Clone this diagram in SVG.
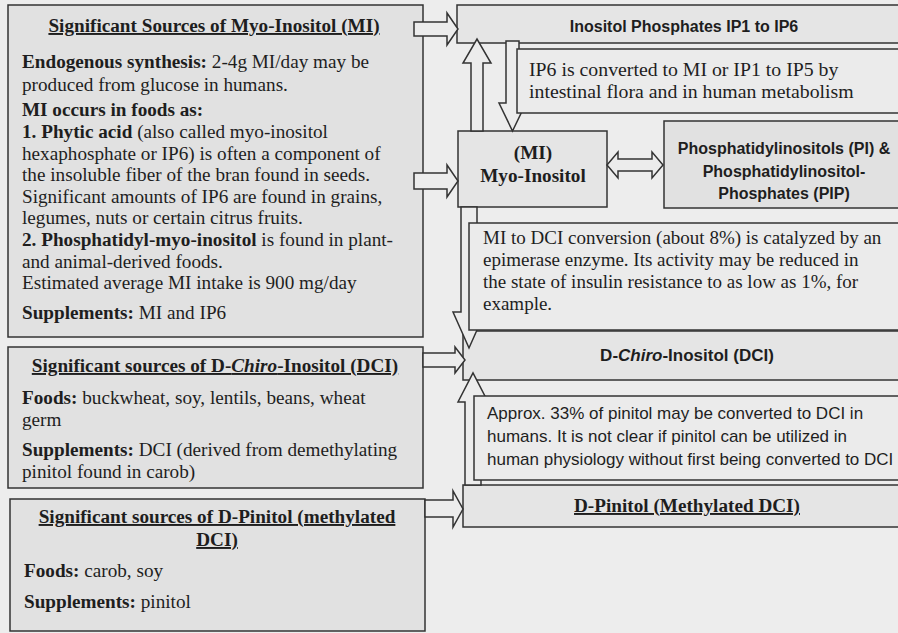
<svg xmlns="http://www.w3.org/2000/svg" width="898" height="633" viewBox="0 0 898 633">
<style>
.bg{fill:#ededed}
.lbox{fill:#e1e1e1;stroke:#333;stroke-width:1.5}
.tbox{fill:#e5e5e5;stroke:#333;stroke-width:1.5}
.xbox{fill:#ebebeb;stroke:#333;stroke-width:1.5}
.ser{font-family:"Liberation Serif","Times New Roman",serif;font-size:19.2px;fill:#1e1e1e}
.san{font-family:"Liberation Sans",Arial,sans-serif;font-size:17px;fill:#1e1e1e}
.sanb{font-family:"Liberation Sans",Arial,sans-serif;font-size:16px;font-weight:bold;fill:#1e1e1e}
.b{font-weight:bold}
.u{text-decoration:underline}
.mid{text-anchor:middle}
.arr{fill:#ececec;stroke:#333;stroke-width:1.5;stroke-linejoin:miter}
</style>
<rect class="bg" x="0" y="0" width="898" height="633"/>

<g id="src-mi">
<rect class="lbox" x="8" y="5" width="415" height="332"/>
<text class="ser b u mid" x="214" y="32">Significant Sources of Myo-Inositol (MI)</text>
<text class="ser" x="22" y="68"><tspan class="b">Endogenous synthesis:</tspan> 2-4g MI/day may be</text>
<text class="ser" x="22" y="91">produced from glucose in humans.</text>
<text class="ser b" x="22" y="116">MI occurs in foods as:</text>
<text class="ser" x="22" y="138"><tspan class="b">1. Phytic acid</tspan> (also called myo-inositol</text>
<text class="ser" x="22" y="159.6">hexaphosphate or IP6) is often a component of</text>
<text class="ser" x="22" y="181.2">the insoluble fiber of the bran found in seeds.</text>
<text class="ser" x="22" y="202.8">Significant amounts of IP6 are found in grains,</text>
<text class="ser" x="22" y="224.4">legumes, nuts or certain citrus fruits.</text>
<text class="ser" x="22" y="246"><tspan class="b">2. Phosphatidyl-myo-inositol</tspan> is found in plant-</text>
<text class="ser" x="22" y="267.6">and animal-derived foods.</text>
<text class="ser" x="22" y="289.2">Estimated average MI intake is 900 mg/day</text>
<text class="ser" x="22" y="319"><tspan class="b">Supplements:</tspan> MI and IP6</text>
</g>

<g id="src-dci">
<rect class="lbox" x="8" y="347" width="415" height="141"/>
<text class="ser b u mid" x="215" y="372">Significant sources of D-<tspan font-style="italic">Chiro</tspan>-Inositol (DCI)</text>
<text class="ser" x="22" y="404"><tspan class="b">Foods:</tspan> buckwheat, soy, lentils, beans, wheat</text>
<text class="ser" x="22" y="426">germ</text>
<text class="ser" x="22" y="456"><tspan class="b">Supplements:</tspan> DCI (derived from demethylating</text>
<text class="ser" x="22" y="478">pinitol found in carob)</text>
</g>

<g id="src-pinitol">
<rect class="lbox" x="10" y="499" width="415" height="132"/>
<text class="ser b u mid" x="217" y="523">Significant sources of D-Pinitol (methylated</text>
<text class="ser b u mid" x="217" y="546">DCI)</text>
<text class="ser" x="24" y="577"><tspan class="b">Foods:</tspan> carob, soy</text>
<text class="ser" x="24" y="608"><tspan class="b">Supplements:</tspan> pinitol</text>
</g>

<g id="ip">
<rect class="tbox" x="457" y="5" width="450" height="38"/>
<text class="sanb mid" x="684" y="32">Inositol Phosphates IP1 to IP6</text>
</g>

<g id="mi">
<rect class="tbox" x="458" y="131" width="149" height="76"/>
<text class="ser b mid" x="533" y="159">(MI)</text>
<text class="ser b mid" x="533" y="182">Myo-Inositol</text>
</g>

<g id="pi">
<rect class="lbox" x="664" y="121" width="240" height="87"/>
<text class="sanb mid" x="784" y="154">Phosphatidylinositols (PI) &amp;</text>
<text class="sanb mid" x="784" y="177">Phosphatidylinositol-</text>
<text class="sanb mid" x="784" y="199">Phosphates (PIP)</text>
</g>

<g id="dci">
<rect class="tbox" x="463" y="331" width="445" height="49"/>
<text class="sanb mid" x="687" y="361" style="font-size:17px">D-<tspan font-style="italic">Chiro</tspan>-Inositol (DCI)</text>
</g>

<g id="pinitol">
<rect class="tbox" x="463" y="485" width="445" height="42"/>
<text class="ser b u mid" x="687" y="512">D-Pinitol (Methylated DCI)</text>
</g>

<g id="connectors">
<path class="arr" d="M414,22 H447 V13 L458,29 L447,45 V36 H414 Z"/>
<path class="arr" d="M414,173 H447 V165 L458,181 L447,197 V189 H414 Z"/>
<path class="arr" d="M423,353 H455 V347 L465,360 L455,373 V367 H423 Z"/>
<path class="arr" d="M425,500 H453 V491 L463,509 L453,527 V517 H425 Z"/>
<path class="arr" d="M471,131 V63 H463 L477,39 L491,63 H483 V131 Z"/>
<path class="arr" d="M506,41 H519 V103 H526 L512.5,131 L499,103 H506 Z"/>
<path class="arr" d="M461,207 H477 V312 H485 L469,348 L453,312 H461 Z"/>
<path class="arr" d="M465,485 V402 H458 L473,373 L488,402 H481 V485 Z"/>
<path class="arr" d="M607,165 L618,152 V159 H652 V152 L663,165 L652,178 V171 H618 V178 Z"/>
</g>

<g id="note-ip6">
<rect class="xbox" x="517" y="49" width="390" height="64"/>
<text class="ser" x="529" y="76" style="font-size:19.8px">IP6 is converted to MI or IP1 to IP5 by</text>
<text class="ser" x="529" y="98" style="font-size:19.8px">intestinal flora and in human metabolism</text>
</g>

<g id="note-epimerase">
<rect class="xbox" x="469" y="223" width="440" height="107"/>
<text class="ser" x="483" y="244" style="font-size:19px">MI to DCI conversion (about 8%) is catalyzed by an</text>
<text class="ser" x="483" y="266" style="font-size:19px">epimerase enzyme. Its activity may be reduced in</text>
<text class="ser" x="483" y="288" style="font-size:19px">the state of insulin resistance to as low as 1%, for</text>
<text class="ser" x="483" y="310" style="font-size:19px">example.</text>
</g>

<g id="note-pinitol">
<rect class="xbox" x="474" y="396" width="435" height="84"/>
<text class="san" x="487" y="419">Approx. 33% of pinitol may be converted to DCI in</text>
<text class="san" x="487" y="442">humans. It is not clear if pinitol can be utilized in</text>
<text class="san" x="487" y="465">human physiology without first being converted to DCI</text>
</g>
</svg>
